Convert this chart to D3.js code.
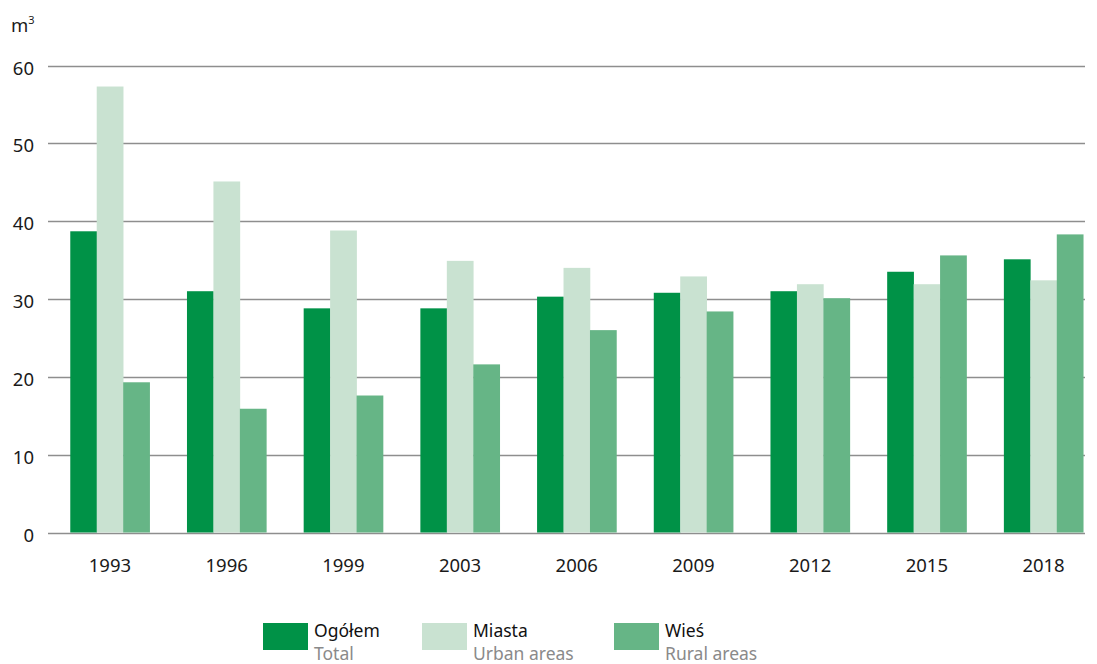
<!DOCTYPE html>
<html><head><meta charset="utf-8">
<script src="https://cdn.jsdelivr.net/npm/d3@7"></script>
<style>body{margin:0;background:#fff}svg{display:block}</style>
</head><body>
<svg id="c" width="1097" height="664"></svg>
<script>
const years = ["1993","1996","1999","2003","2006","2009","2012","2015","2018"];
const total = [38.7, 31.0, 28.8, 28.8, 30.3, 30.8, 31.0, 33.5, 35.1];
const urban = [57.3, 45.1, 38.8, 34.9, 34.0, 32.9, 31.9, 31.9, 32.4];
const rural = [19.3, 15.9, 17.6, 21.6, 26.0, 28.4, 30.1, 35.6, 38.3];
const yTicks = [0, 10, 20, 30, 40, 50, 60];
const seriesNames = ["Ogółem", "Miasta", "Wieś"];
const seriesNamesEn = ["Total", "Urban areas", "Rural areas"];
const colors = ["#009247", "#c9e2d1", "#66b586"];

const svg = d3.select("#c");
const font = "'Noto Sans', sans-serif";
const y = d3.scaleLinear().domain([0, 60]).range([532.5, 65.5]);
const x = d3.scaleBand().domain(years).range([51.6, 1101.9]).paddingInner(0.32).paddingOuter(0.16);
const xs = d3.scaleBand().domain([0,1,2]).range([0, x.bandwidth()]);

// gridlines
svg.append("g").selectAll("line").data(yTicks).join("line")
  .attr("x1", 48).attr("x2", 1085)
  .attr("y1", d => Math.round(y(d)) + 0.5).attr("y2", d => Math.round(y(d)) + 0.5)
  .attr("stroke", "#8e8e8e").attr("stroke-width", 1.3);

// y labels
svg.append("g").selectAll("text").data(yTicks).join("text")
  .attr("x", 34).attr("y", d => y(d) + 9)
  .attr("text-anchor", "end").attr("font-family", font).attr("font-size", 18.5).attr("fill", "#1a1a1a")
  .text(d => d);

// unit
const u = svg.append("text").attr("x", 11).attr("y", 32).attr("font-family", font).attr("font-size", 18.5).attr("fill", "#1a1a1a");
u.append("tspan").text("m");
u.append("tspan").attr("font-size", 11).attr("dy", -8).text("3");

// bars
const series = [total, urban, rural];
series.forEach((vals, si) => {
  svg.append("g").selectAll("rect").data(vals).join("rect")
    .attr("x", (d, i) => x(years[i]) + xs(si))
    .attr("width", xs.bandwidth() + 0.3)
    .attr("y", d => y(d))
    .attr("height", d => y(0) - y(d))
    .attr("fill", colors[si]);
});

// x labels
svg.append("g").selectAll("text").data(years).join("text")
  .attr("x", d => x(d) + x.bandwidth() / 2).attr("y", 572)
  .attr("text-anchor", "middle").attr("font-family", font).attr("font-size", 18.5).attr("fill", "#1a1a1a")
  .text(d => d);

// legend
const lx = [263, 422, 614];
seriesNames.forEach((n, i) => {
  const g = svg.append("g");
  g.append("rect").attr("x", lx[i]).attr("y", 623).attr("width", 45).attr("height", 27).attr("fill", colors[i]);
  g.append("text").attr("x", lx[i] + 51).attr("y", 637).attr("font-family", font).attr("font-size", 17.5).attr("fill", "#111").text(n);
  g.append("text").attr("x", lx[i] + 51).attr("y", 660).attr("font-family", font).attr("font-size", 17.5).attr("fill", "#8a8a8a").text(seriesNamesEn[i]);
});
</script>
</body></html>
